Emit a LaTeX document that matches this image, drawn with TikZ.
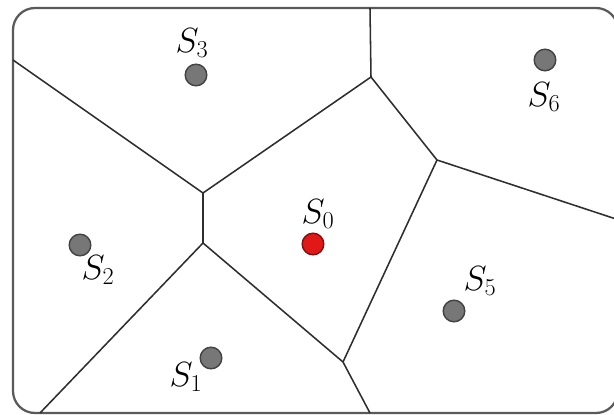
\documentclass[tikz,border=0pt]{standalone}
\usepackage{xcolor}
\usepackage{tikz}
\definecolor{rand}{HTML}{5A5A5A}
\definecolor{kante}{HTML}{2E2E2E}
\definecolor{punkt}{HTML}{777777}
\definecolor{rot}{HTML}{E01818}

\begin{document}
\begin{tikzpicture}[x=0.025cm, y=-0.025cm,
  site/.style={circle, draw=kante!90, fill=punkt, line width=1pt, inner sep=0pt, minimum size=0.54cm},
  mark0/.style={site, draw=rot!60!black, fill=rot},
  lab/.style={font=\fontsize{25}{28}\selectfont, inner sep=0pt},
  kant/.style={kante, line width=1.1pt}]
\useasboundingbox (0,0) rectangle (614,415);
\draw[rand, line width=1.6pt, rounded corners=0.55cm] (13,8) rectangle (618,413);
% Voronoi-Ecken
\coordinate (a) at (371,77);
\coordinate (b) at (437,160);
\coordinate (c) at (203,193);
\coordinate (d) at (203,243);
\coordinate (e) at (343,362);
% Randpunkte
\coordinate (ra) at (370,8);
\coordinate (rb) at (616,219);
\coordinate (rc) at (13,60);
\coordinate (rd) at (40,413);
\coordinate (re) at (370,413);
\draw[kant] (ra) -- (a) -- (b) -- (rb);
\draw[kant] (rc) -- (c) -- (a);
\draw[kant] (c) -- (d) -- (rd);
\draw[kant] (d) -- (e) -- (re);
\draw[kant] (e) -- (b);
% Zentren
\node[mark0] (s0) at (313,244) {};
\node[site] (s1) at (211,358) {};
\node[site] (s2) at (80,245) {};
\node[site] (s3) at (196,75) {};
\node[site] (s5) at (454,311) {};
\node[site] (s6) at (545,60) {};
\node[lab] (l0) at (318,214) {$S_0$};
\node[lab] (l1) at (186,377) {$S_1$};
\node[lab] (l2) at (98,270) {$S_2$};
\node[lab] (l3) at (192,43) {$S_3$};
\node[lab] (l5) at (480,281) {$S_5$};
\node[lab] (l6) at (544,97) {$S_6$};
\end{tikzpicture}
\end{document}
